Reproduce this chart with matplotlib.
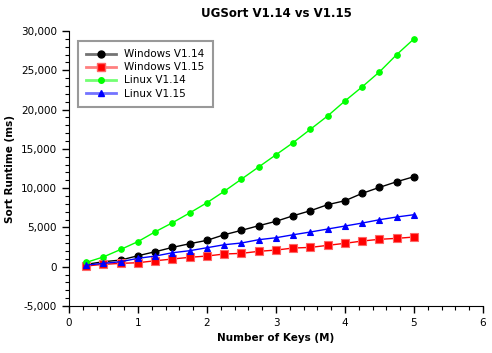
import matplotlib
matplotlib.use("Agg")
import matplotlib.pyplot as plt
from matplotlib.lines import Line2D
from matplotlib.ticker import MultipleLocator, FuncFormatter

# keys in millions
keys = [0.25, 0.5, 0.75, 1.0, 1.25, 1.5, 1.75, 2.0, 2.25, 2.5,
        2.75, 3.0, 3.25, 3.5, 3.75, 4.0, 4.25, 4.5, 4.75, 5.0]

win_114 = [300, 640, 850, 1400, 1910, 2460, 2930, 3360, 4070, 4630,
           5220, 5780, 6490, 7130, 7900, 8400, 9340, 10100, 10820, 11460]
win_115 = [100, 300, 430, 510, 760, 980, 1200, 1360, 1620, 1700,
           1960, 2120, 2380, 2460, 2720, 2980, 3270, 3490, 3610, 3780]
lin_114 = [550, 1250, 2200, 3200, 4450, 5600, 6850, 8150, 9600, 11150,
           12700, 14250, 15800, 17500, 19200, 21100, 22900, 24800, 27000, 29000]
lin_115 = [200, 430, 640, 1070, 1360, 1780, 2040, 2420, 2800, 3020,
           3440, 3690, 4070, 4420, 4800, 5180, 5560, 5980, 6330, 6620]

labels = ["Windows V1.14", "Windows V1.15", "Linux V1.14", "Linux V1.15"]

plt.rcParams["font.family"] = "DejaVu Sans"
plt.rcParams["font.size"] = 7

fig = plt.figure(figsize=(4.92, 3.53), dpi=100)
ax = fig.add_axes([0.1402, 0.1331, 0.8415, 0.7791])

# (color, marker, size, line colour for legend)
styles = [
    ("black", "o", 5, (0, 0, 0, 0.55)),
    ("red", "s", 6, (1, 0, 0, 0.5)),
    ("#00ff00", "o", 4, (0, 1, 0, 0.55)),
    ("blue", "^", 5, (0, 0, 1, 0.55)),
]
series = [win_114, win_115, lin_114, lin_115]

handles = []
for vals, lab, (c, m, ms, lc) in zip(series, labels, styles):
    edge = (1, 0.4, 0.4, 1) if c == "red" else c
    ax.plot(keys, vals, color=c, lw=1, marker=m, ms=ms,
            markerfacecolor=c, markeredgecolor=edge, markeredgewidth=0.8)
    handles.append(Line2D([0], [0], color=lc, lw=2, marker=m, ms=ms,
                          markerfacecolor=c, markeredgecolor=edge, label=lab))

ax.set_xlim(0, 6)
ax.set_ylim(-5000, 30000)
ax.xaxis.set_major_locator(MultipleLocator(1))
ax.xaxis.set_minor_locator(MultipleLocator(0.2))
ax.yaxis.set_major_locator(MultipleLocator(5000))
ax.yaxis.set_minor_locator(MultipleLocator(1000))
ax.yaxis.set_major_formatter(FuncFormatter(lambda v, p: f"{int(v):,}"))
ax.tick_params(which="major", direction="out", length=5, width=1, labelsize=7.5)
ax.tick_params(which="minor", direction="out", length=3, width=0.8)

for s in ("top", "right"):
    ax.spines[s].set_visible(False)

ax.set_title("UGSort V1.14 vs V1.15", fontsize=8.5, fontweight="bold", pad=10)
ax.set_xlabel("Number of Keys (M)", fontsize=7.5, fontweight="bold")
ax.set_ylabel("Sort Runtime (ms)", fontsize=7.5, fontweight="bold")

leg = ax.legend(handles=handles, loc="upper left", bbox_to_anchor=(0.022, 0.964),
                borderaxespad=0, fancybox=False, edgecolor="gray", fontsize=7.5,
                handlelength=2.8, borderpad=0.8, labelspacing=0.3)
leg.get_frame().set_linewidth(1.5)

fig.savefig("out.png", dpi=100)
